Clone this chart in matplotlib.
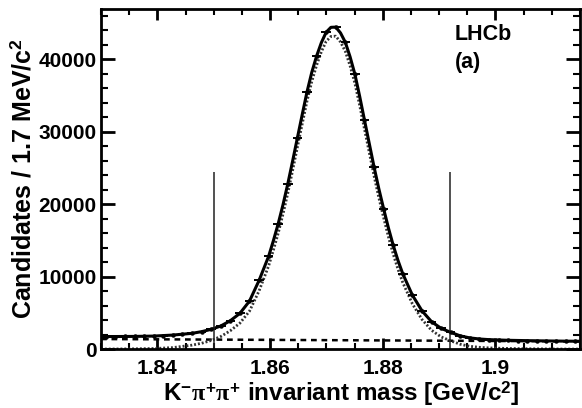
import numpy as np
import matplotlib
matplotlib.use("Agg")
import matplotlib.pyplot as plt
from matplotlib.ticker import MultipleLocator, FuncFormatter

plt.rcParams['font.family'] = ['Liberation Sans', 'DejaVu Sans']
plt.rcParams['font.weight'] = 'bold'
plt.rcParams['mathtext.fontset'] = 'custom'
plt.rcParams['mathtext.rm'] = 'Liberation Sans:bold'
plt.rcParams['mathtext.bf'] = 'Liberation Sans:bold'
plt.rcParams['mathtext.it'] = 'Liberation Serif'

# histogram: 50 bins of 1.7 MeV starting at 1.83 GeV
bin_lo = 1.83
bin_width = 0.0017
counts = [1750, 1750, 1760, 1770, 1790, 1820, 1870, 1950, 2050, 2190,
          2420, 2740, 3200, 3930, 4950, 6640, 9490, 12830, 17330, 22830,
          29160, 35490, 40440, 43740, 44430, 42370, 37960, 31640, 25170, 19390,
          14350, 10410, 7470, 5310, 3800, 2880, 2330, 1840, 1560, 1410,
          1320, 1270, 1230, 1200, 1180, 1160, 1140, 1130, 1115, 1105]

# fit curves
fit_mass = [1.8300, 1.83255, 1.83595, 1.83935, 1.84275, 1.84615, 1.84785, 1.84955,
            1.85125, 1.85295, 1.85465, 1.85635, 1.85805, 1.85975, 1.86060, 1.86145,
            1.86230, 1.86315, 1.86400, 1.86485, 1.86570, 1.86655, 1.86740, 1.86825,
            1.86910, 1.86995, 1.87080, 1.87165, 1.87250, 1.87335, 1.87420, 1.87505,
            1.87590, 1.87675, 1.87760, 1.87845, 1.87930, 1.88015, 1.88100, 1.88185,
            1.88270, 1.88355, 1.88525, 1.88695, 1.88865, 1.89035, 1.89205, 1.89375,
            1.89545, 1.89715, 1.89885, 1.90225, 1.90565, 1.90905, 1.91245, 1.91500]
fit_total = [1750, 1750, 1765, 1810, 1950, 2190, 2420, 2740,
             3200, 3930, 4950, 6640, 9490, 12830, 15000, 17330,
             19950, 22830, 25950, 29160, 32350, 35490, 38200, 40440,
             42300, 43740, 44420, 44450, 43650, 42370, 40350, 37960,
             34900, 31640, 28400, 25170, 22150, 19390, 16750, 14350,
             12250, 10410, 7470, 5310, 3800, 2880, 2330, 1840,
             1560, 1410, 1320, 1230, 1180, 1140, 1110, 1095]
fit_signal = [20, 30, 50, 90, 220, 560, 820, 1200,
              1750, 2550, 3600, 5250, 8050, 11500, 13700, 16030,
              18660, 21540, 24670, 27880, 31070, 34220, 36930, 39170,
              41040, 42480, 43160, 43200, 42400, 41120, 39110, 36720,
              33660, 30410, 27170, 23940, 20930, 18170, 15530, 13140,
              11040, 9200, 6270, 4120, 2620, 1700, 1160, 680,
              400, 260, 175, 100, 60, 35, 20, 15]
bkg_mass = [1.830, 1.915]
bkg_vals = [1400, 1080]

# signal window markers
window = [1.850, 1.892]
window_top = 24450


def main():
    fig = plt.figure(figsize=(5.82, 4.08), dpi=100)
    ax = fig.add_axes([101 / 582, 1 - 349.2 / 408, 479 / 582, 340.2 / 408])

    centers = bin_lo + bin_width * (np.arange(len(counts)) + 0.5)
    y = np.array(counts, dtype=float)

    # fit components
    ax.plot(bkg_mass, bkg_vals, color='black', lw=1.8, dashes=(2.3, 1.9))
    ax.plot(fit_mass, fit_signal, color='#333333', lw=2.0, dashes=(0.7, 0.7))
    ax.plot(fit_mass, fit_total, color='black', lw=2.2)

    # data
    ax.errorbar(centers, y, xerr=bin_width / 2, yerr=np.sqrt(y), fmt='o',
                color='black', ms=2.2, elinewidth=1.4, capsize=0)

    # window lines
    ax.vlines(window, 0, window_top, color='#222222', lw=1.1)

    ax.set_xlim(1.83, 1.915)
    ax.set_ylim(0, 46950)

    ax.xaxis.set_major_locator(MultipleLocator(0.02))
    ax.xaxis.set_minor_locator(MultipleLocator(0.005))
    ax.yaxis.set_major_locator(MultipleLocator(10000))
    ax.yaxis.set_minor_locator(MultipleLocator(2000))
    ax.xaxis.set_major_formatter(FuncFormatter(lambda v, p: f"{v:g}"))
    ax.yaxis.set_major_formatter(FuncFormatter(lambda v, p: f"{int(round(v))}"))

    ax.tick_params(axis='both', which='both', direction='in', top=True, right=True,
                   labelsize=15)
    ax.tick_params(axis='x', which='major', length=8, width=2, pad=7)
    ax.tick_params(axis='x', which='minor', length=4.5, width=1.5)
    ax.tick_params(axis='y', which='major', length=10, width=2, pad=3)
    ax.tick_params(axis='y', which='minor', length=5, width=1.5)
    for s in ax.spines.values():
        s.set_linewidth(2)

    # axis titles
    fig.text(23 / 582, 1 - 38 / 408, "Candidates / 1.7 MeV/c$^{2}$",
             rotation=90, ha='center', va='top', fontsize=18, fontweight='bold')
    fig.text(520 / 582, 1 - 401 / 408, r"K$^{-}\pi^{+}\pi^{+}$ invariant mass [GeV/c$^{2}$]",
             ha='right', va='baseline', fontsize=17.5, fontweight='bold')

    ax.text(0.739, 0.909, "LHCb", transform=ax.transAxes, fontsize=15.5,
            fontweight='bold', va='baseline')
    ax.text(0.739, 0.827, "(a)", transform=ax.transAxes, fontsize=15.5,
            fontweight='bold', va='baseline')

    fig.savefig("out.png", dpi=100)


if __name__ == "__main__":
    main()
